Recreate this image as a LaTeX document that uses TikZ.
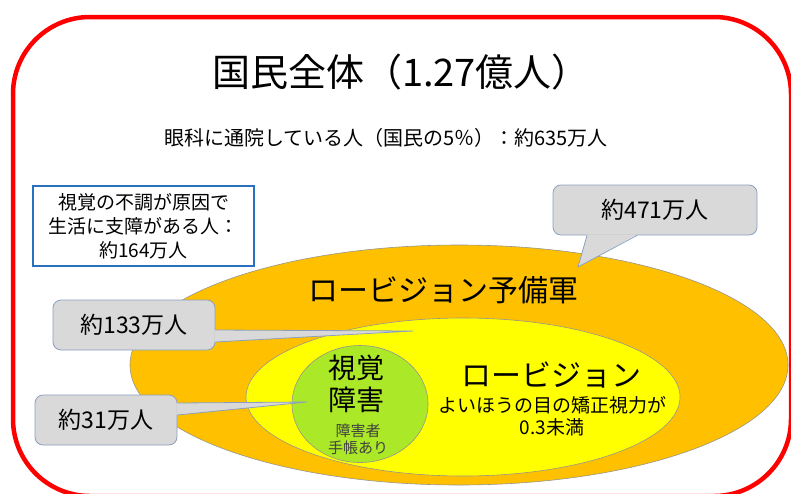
\documentclass[tikz,border=0pt]{standalone}
\usepackage{fontspec}
\setmainfont{Noto Sans CJK JP}
\usetikzlibrary{shapes.geometric}
\definecolor{framered}{RGB}{255,0,0}
\definecolor{boxblue}{RGB}{40,112,192}
\definecolor{reserveorange}{RGB}{255,192,0}
\definecolor{lowyellow}{RGB}{255,255,0}
\definecolor{impairgreen}{RGB}{170,232,40}
\definecolor{calloutgray}{RGB}{217,217,217}
\definecolor{calloutline}{RGB}{140,160,190}
\definecolor{ringline}{RGB}{150,150,140}
\tikzset{
    every node/.style={inner sep=0pt, text=black}
}
\tikzset{
    callbox/.style={rectangle, rounded corners=8pt, draw=calloutline, fill=calloutgray, line width=0.8pt, font=\fontsize{23}{26}\selectfont},
    ring/.style={ellipse, draw=ringline, line width=0.6pt},
    wedge/.style={draw=calloutline, line width=0.8pt}
}

\begin{document}
\begin{tikzpicture}[x=1pt, y=-1pt]
        \useasboundingbox (0,0) rectangle (791,493);
        \draw[framered, line width=4.5pt, rounded corners=77pt] (13,17) rectangle (791,496);
        \node (title) at (401,72) {\fontsize{38}{40}\selectfont 国民全体（1.27億人）};
        \node (visits) at (386,138) {\fontsize{20}{22}\selectfont 眼科に通院している人（国民の5％）：約635万人};
        \node (difficulty) [draw=boxblue, line width=1.8pt, minimum width=221pt, minimum height=80pt, align=center, font=\fontsize{19}{24}\selectfont] at (143.5,226) {視覚の不調が原因で\\生活に支障がある人：\\約164万人};
        % nested groups
        \node (reserve) [ring, fill=reserveorange, minimum width=658pt, minimum height=240pt] at (459,365) {};
        \node (lowvision) [ring, fill=lowyellow, minimum width=434pt, minimum height=158pt] at (463,397) {};
        \node (impaired) [ring, fill=impairgreen, minimum width=136pt, minimum height=117pt] at (360,404) {};
        \node (reservetext) at (443,290) {\fontsize{30}{32}\selectfont ロービジョン予備軍};
        \node (lvtext) at (551,375) {\fontsize{30}{32}\selectfont ロービジョン};
        \node (lvdef) [align=center, font=\fontsize{19}{22}\selectfont] at (552,416) {よいほうの目の矯正視力が\\0.3未満};
        \node (imptext) [align=center, font=\fontsize{28}{32}\selectfont] at (356,384) {視覚\\障害};
        \node (impnote) [align=center, text=black!75, font=\fontsize{15}{17}\selectfont] at (358,439) {障害者\\手帳あり};
        % callouts
        \node (n471) [callbox, minimum width=204pt, minimum height=50pt] at (655,210) {約471万人};
        \node (n133) [callbox, minimum width=162pt, minimum height=50pt] at (134,325) {約133万人};
        \node (n31) [callbox, minimum width=142pt, minimum height=50pt] at (106,420) {約31万人};
        \coordinate (tip471) at (578,267);
        \coordinate (tip133) at (413,331);
        \coordinate (tip31) at (307,402);
        \fill[calloutgray] ([xshift=-68pt,yshift=1pt]n471.south) -- (tip471) -- ([xshift=-18pt,yshift=1pt]n471.south) -- cycle;
        \draw[wedge] ([xshift=-68pt]n471.south) -- (tip471) -- ([xshift=-18pt]n471.south);
        \fill[calloutgray] ([xshift=-1pt,yshift=-5pt]n133.east) -- (tip133) -- ([xshift=-1pt,yshift=-17pt]n133.east) -- cycle;
        \draw[wedge] ([yshift=-5pt]n133.east) -- (tip133) -- ([yshift=-17pt]n133.east);
        \fill[calloutgray] ([xshift=-1pt,yshift=17pt]n31.east) -- (tip31) -- ([xshift=-1pt,yshift=5pt]n31.east) -- cycle;
        \draw[wedge] ([yshift=17pt]n31.east) -- (tip31) -- ([yshift=5pt]n31.east);
\end{tikzpicture}
\end{document}
